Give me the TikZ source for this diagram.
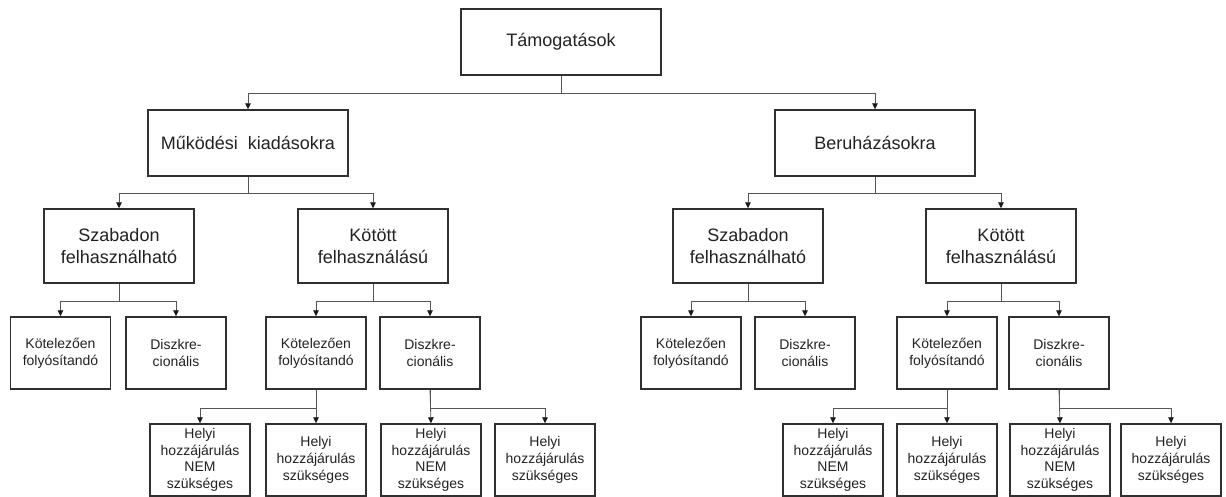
\documentclass[tikz,border=0pt]{standalone}
\usepackage{fontspec}
\setmainfont{Liberation Sans}
\usetikzlibrary{arrows.meta}
\definecolor{boxc}{HTML}{303030}
\definecolor{linec}{HTML}{555555}
\definecolor{tipc}{HTML}{1A1A1A}
\definecolor{txtc}{HTML}{222222}
\tikzset{
  basebox/.style={draw=boxc, line width=1.4pt, inner sep=0pt, align=center, text=txtc},
  bigbox/.style={basebox, minimum width=200pt, minimum height=66pt, font=\fontsize{18}{22}\selectfont},
  midbox/.style={basebox, minimum width=150pt, minimum height=74pt, font=\fontsize{18}{22}\selectfont},
  smallbox/.style={basebox, minimum width=100pt, minimum height=72pt, font=\fontsize{14}{16.7}\selectfont},
  conn/.style={draw=linec, line width=0.8pt, -{Triangle[length=6pt,width=5.5pt,color=tipc]}}
}
\begin{document}
\begin{tikzpicture}[x=1pt,y=1pt]
\useasboundingbox (0,0) rectangle (1226,-497);
\fill[white] (0,0) rectangle (1226,-497);
% level 0
\node[bigbox] (t) at (561,-42) {Támogatások};
% level 1
\node[bigbox] (m) at (248,-143) {Működési\ \ kiadásokra};
\node[bigbox] (b) at (875,-143) {Beruházásokra};
% level 2
\node[midbox] (msz) at (119,-246) {Szabadon\\felhasználható};
\node[midbox] (mko) at (373,-246) {Kötött\\felhasználású};
\node[midbox] (bsz) at (748,-246) {Szabadon\\felhasználható};
\node[midbox] (bko) at (1001,-246) {Kötött\\felhasználású};
% level 3
\node[smallbox] (mszk) at (60.5,-353) {Kötelezően\\folyósítandó};
\node[smallbox] (mszd) at (176,-353) {Diszkre-\\cionális};
\node[smallbox] (mkok) at (316,-353) {Kötelezően\\folyósítandó};
\node[smallbox] (mkod) at (430,-353) {Diszkre-\\cionális};
\node[smallbox] (bszk) at (691,-353) {Kötelezően\\folyósítandó};
\node[smallbox] (bszd) at (805,-353) {Diszkre-\\cionális};
\node[smallbox] (bkok) at (947,-353) {Kötelezően\\folyósítandó};
\node[smallbox] (bkod) at (1059,-353) {Diszkre-\\cionális};
% level 4
\node[smallbox] (m1) at (200,-460) {Helyi\\hozzájárulás\\NEM\\szükséges};
\node[smallbox] (m2) at (316,-460) {Helyi\\hozzájárulás\\szükséges};
\node[smallbox] (m3) at (431,-460) {Helyi\\hozzájárulás\\NEM\\szükséges};
\node[smallbox] (m4) at (545,-460) {Helyi\\hozzájárulás\\szükséges};
\node[smallbox] (b1) at (833,-460) {Helyi\\hozzájárulás\\NEM\\szükséges};
\node[smallbox] (b2) at (947,-460) {Helyi\\hozzájárulás\\szükséges};
\node[smallbox] (b3) at (1060,-460) {Helyi\\hozzájárulás\\NEM\\szükséges};
\node[smallbox] (b4) at (1171,-460) {Helyi\\hozzájárulás\\szükséges};
% connectors
\draw[conn] (t.south) -- ++(0,-18) -| (m.north);
\draw[conn] (t.south) -- ++(0,-18) -| (b.north);
\draw[conn] (m.south) -- ++(0,-17) -| (msz.north);
\draw[conn] (m.south) -- ++(0,-17) -| (mko.north);
\draw[conn] (b.south) -- ++(0,-17) -| (bsz.north);
\draw[conn] (b.south) -- ++(0,-17) -| (bko.north);
\draw[conn] (msz.south) -- ++(0,-18) -| (mszk.north);
\draw[conn] (msz.south) -- ++(0,-18) -| (mszd.north);
\draw[conn] (mko.south) -- ++(0,-18) -| (mkok.north);
\draw[conn] (mko.south) -- ++(0,-18) -| (mkod.north);
\draw[conn] (bsz.south) -- ++(0,-18) -| (bszk.north);
\draw[conn] (bsz.south) -- ++(0,-18) -| (bszd.north);
\draw[conn] (bko.south) -- ++(0,-18) -| (bkok.north);
\draw[conn] (bko.south) -- ++(0,-18) -| (bkod.north);
\draw[conn] (mkok.south) -- ++(0,-19) -| (m1.north);
\draw[conn] (mkok.south) -- (m2.north);
\draw[conn] (mkod.south) -- (m3.north);
\draw[conn] (mkod.south) -- ++(0,-19) -| (m4.north);
\draw[conn] (bkok.south) -- ++(0,-19) -| (b1.north);
\draw[conn] (bkok.south) -- (b2.north);
\draw[conn] (bkod.south) -- (b3.north);
\draw[conn] (bkod.south) -- ++(0,-19) -| (b4.north);
\end{tikzpicture}
\end{document}
